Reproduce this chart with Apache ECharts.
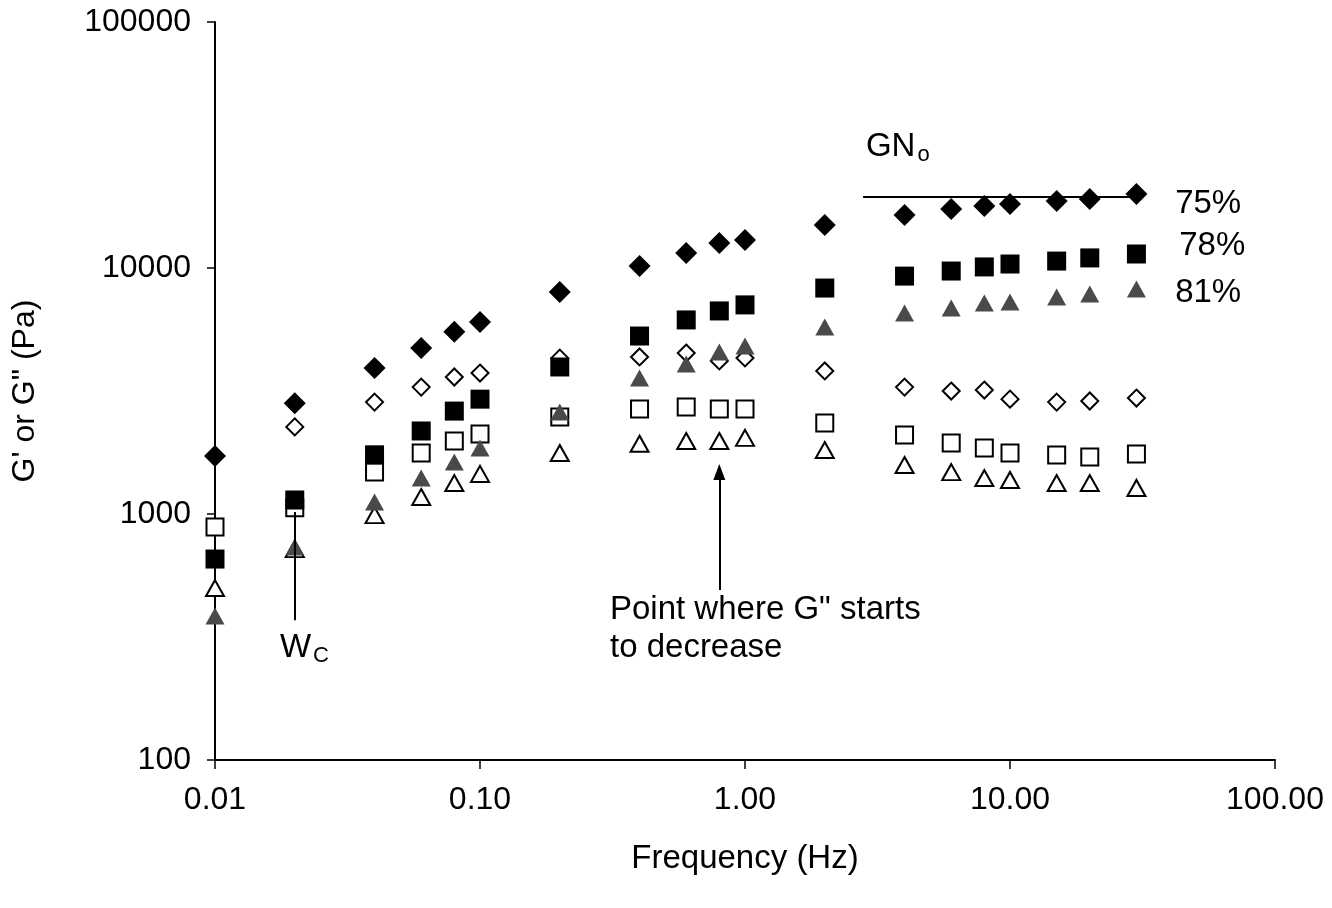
<!DOCTYPE html>
<html>
<head>
<meta charset="utf-8">
<script src="https://cdn.jsdelivr.net/npm/echarts@6/dist/echarts.min.js"></script>
<style>
html,body{margin:0;padding:0;background:#fff;}
#chart{width:1332px;height:908px;}
</style>
</head>
<body>
<div id="chart"></div>
<script>
// Frequencies (Hz)
const freq = [0.01, 0.02, 0.04, 0.06, 0.08, 0.1, 0.2, 0.4, 0.6, 0.8, 1, 2, 4, 6, 8, 10, 15, 20, 30];

// G' (storage modulus, filled markers)
const gp75 = [1720, 2820, 3920, 4730, 5500, 6030, 7990, 10190, 11510, 12640, 13000, 14950, 16420, 17380, 17870, 18200, 18720, 19070, 20000];
const gp78 = [656, 1140, 1740, 2175, 2620, 2930, 3960, 5290, 6150, 6690, 7080, 8290, 9270, 9720, 10100, 10380, 10670, 10990, 11400];
const gp81 = [385, 734, 1120, 1400, 1626, 1854, 2600, 3570, 4070, 4560, 4820, 5760, 6560, 6870, 7200, 7280, 7620, 7840, 8220];

// G'' (loss modulus, open markers)
const gpp75 = [null, 2260, 2850, 3280, 3605, 3740, 4300, 4350, 4510, 4190, 4310, 3815, 3280, 3160, 3190, 2930, 2850, 2880, 2960];
const gpp78 = [886, 1060, 1480, 1770, 1980, 2115, 2480, 2670, 2720, 2670, 2670, 2344, 2095, 1944, 1854, 1770, 1738, 1706, 1754];
const gpp81 = [500, 720, 990, 1172, 1336, 1455, 1770, 1930, 1980, 1980, 2040, 1820, 1582, 1480, 1400, 1375, 1336, 1336, 1276];

// Axis ticks
const xTicks = [0.01, 0.1, 1, 10, 100];
const yTicks = [100, 1000, 10000, 100000];

// Annotations (data coordinates)
const gnoLine = [[2.79, 19440], [31.8, 19440]];
const wcLine = [[0.02, 370], [0.02, 1019]];
const arrowLine = [[0.8, 491], [0.8, 1482]];
const labels = [
  {text: '75%', x: 42, y: 18200},
  {text: '78%', x: 43.5, y: 12290},
  {text: '81%', x: 42, y: 7910},
  {text: '{m|GN}{s|o}', x: 2.86, y: 31040},
  {text: '{m|W}{s|C}', x: 0.01758, y: 285},
  {text: 'Point where G" starts\nto decrease', x: 0.3094, y: 341}
];

const FONT = 'Liberation Sans, Arial, sans-serif';
const pairs = arr => freq.map((f, i) => [f, arr[i]]).filter(p => p[1] != null);

const chart = echarts.init(document.getElementById('chart'));

function scatter(name, data, symbol, size, fill, stroke, z) {
  return {
    name, type: 'scatter', data: pairs(data), symbol, symbolSize: size, z,
    itemStyle: {color: fill, borderColor: stroke, borderWidth: fill === '#fff' ? 2 : 0, opacity: 1},
    emphasis: {disabled: true}
  };
}

const labelStyle = {
  show: true, position: 'right', distance: 0, align: 'left', verticalAlign: 'middle',
  fontFamily: FONT, fontSize: 33, color: '#000', opacity: 1, lineHeight: 38,
  rich: {
    m: {fontFamily: FONT, fontSize: 33, color: '#000'},
    s: {fontFamily: FONT, fontSize: 22, color: '#000', verticalAlign: 'bottom', padding: [15, 0, 0, 2]}
  }
};

const option = {
  animation: false,
  backgroundColor: '#fff',
  grid: {left: 215, right: 57, top: 22, bottom: 148},
  xAxis: {
    type: 'log', logBase: 10, min: 0.01, max: 100,
    name: 'Frequency (Hz)', nameLocation: 'middle', nameGap: 82,
    nameTextStyle: {fontFamily: FONT, fontSize: 33, color: '#000'},
    axisLine: {lineStyle: {color: '#000', width: 2}},
    axisTick: {show: true, length: 9, lineStyle: {color: '#000', width: 1.5}},
    axisLabel: {fontFamily: FONT, fontSize: 32, color: '#000', margin: 24,
      formatter: v => Number(v).toFixed(2)},
    splitLine: {show: false}, minorTick: {show: false}
  },
  yAxis: {
    type: 'log', logBase: 10, min: 100, max: 100000,
    name: "G' or G\" (Pa)", nameLocation: 'middle', nameGap: 174,
    nameTextStyle: {fontFamily: FONT, fontSize: 32, color: '#000'},
    axisLine: {lineStyle: {color: '#000', width: 2}},
    axisTick: {show: true, length: 8, lineStyle: {color: '#000', width: 1.5}},
    axisLabel: {fontFamily: FONT, fontSize: 32, color: '#000', margin: 24,
      formatter: v => String(Math.round(v))},
    splitLine: {show: false}, minorTick: {show: false}
  },
  series: [
    scatter("75% G''", gpp75, 'diamond', 17, '#fff', '#000', 2),
    scatter("78% G''", gpp78, 'rect', 17, '#fff', '#000', 2),
    scatter("81% G''", gpp81, 'triangle', [18, 16], '#fff', '#000', 2),
    scatter("75% G'", gp75, 'diamond', 22, '#000', '#000', 3),
    scatter("78% G'", gp78, 'rect', 19, '#000', '#000', 3),
    scatter("81% G'", gp81, 'triangle', [19, 17], '#4a4a4a', '#000', 4),
    {
      type: 'line', data: [], z: 5, silent: true,
      markLine: {
        silent: true, animation: false,
        lineStyle: {color: '#000', width: 2, type: 'solid', opacity: 1},
        label: {show: false},
        data: [
          [{coord: gnoLine[0], symbol: 'none'}, {coord: gnoLine[1], symbol: 'none'}],
          [{coord: wcLine[0], symbol: 'none'}, {coord: wcLine[1], symbol: 'none'}],
          [{coord: arrowLine[0], symbol: 'none'}, {coord: arrowLine[1], symbol: 'triangle', symbolSize: [12, 16]}]
        ]
      }
    },
    {
      type: 'scatter', z: 6, silent: true, symbolSize: 0,
      itemStyle: {opacity: 1},
      data: labels.map(l => ({value: [l.x, l.y], label: Object.assign({}, labelStyle, {formatter: l.text})})),
      label: labelStyle
    }
  ]
};
chart.setOption(option);
</script>
</body>
</html>
